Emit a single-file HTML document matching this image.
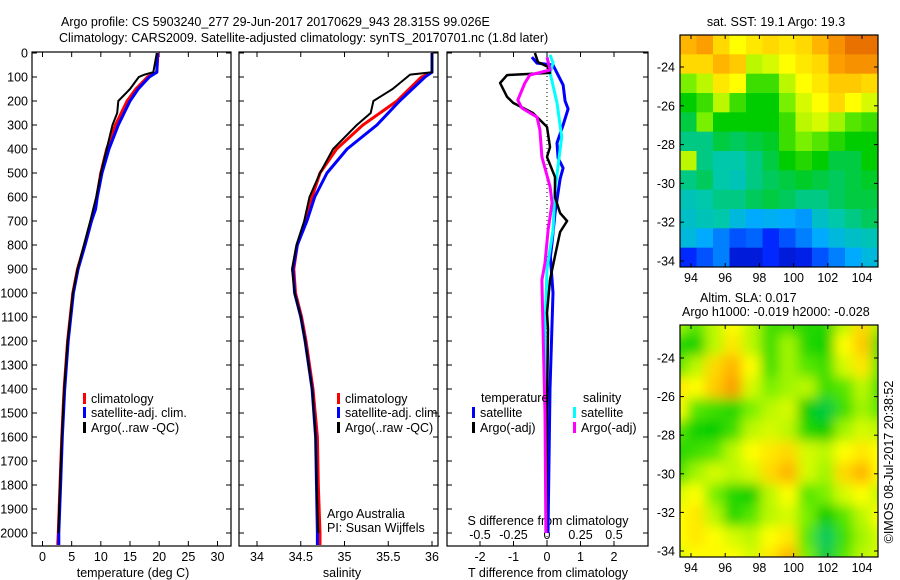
<!DOCTYPE html>
<html><head><meta charset="utf-8"><style>
html,body{margin:0;padding:0;background:#fff;width:900px;height:580px;overflow:hidden}
svg{display:block;font-family:"Liberation Sans",sans-serif}
text{font-size:12.5px;fill:#000}
</style></head><body>
<svg id="c" width="900" height="580" viewBox="0 0 900 580" xmlns="http://www.w3.org/2000/svg">
<defs>
<filter id="blur" x="0" y="0" width="1" height="1"><feGaussianBlur stdDeviation="6"/></filter>
<clipPath id="clipSla"><rect x="680" y="325" width="198" height="232"/></clipPath>
<clipPath id="clipSst"><rect x="680" y="35" width="198" height="232"/></clipPath>
</defs>
<text x="61" y="26">Argo profile: CS 5903240_277 29-Jun-2017 20170629_943 28.315S 99.026E</text>
<text x="59" y="42">Climatology: CARS2009. Satellite-adjusted climatology: synTS_20170701.nc (1.8d later)</text>
</svg>
<script>
// ---- data ----
const tDepth=[0,80,100,150,200,300,400,500,600,650,700,800,900,1000,1200,1400,1600,1800,2000,2050];
const tClim=[19.8,19.6,18,16,14.5,12.5,11,10,9.3,9,8.3,7.2,6,5.2,4.3,3.7,3.3,3,2.7,2.6];
const tSat=[19.7,19.6,18.3,16.4,15,13,11.4,10.2,9.4,9.1,8.4,7.3,6.1,5.3,4.4,3.8,3.4,3.1,2.8,2.8];
const tArgoDepth=[0,80,90,100,150,200,250,300,400,500,600,700,800,900,1000,1200,1400,1600,1800,2000];
const tArgo=[19.6,19,17.5,16.5,15,13,12.8,12,11,10,9.2,8.2,7.1,6,5.2,4.3,3.7,3.3,3,2.7];
const sDepth=[0,80,100,200,300,400,500,600,700,800,900,1000,1100,1200,1400,1600,1800,2000,2050];
const sClim=[36.0,36.0,35.88,35.6,35.21,34.91,34.72,34.63,34.56,34.46,34.42,34.44,34.51,34.56,34.64,34.69,34.7,34.72,34.72];
const sSat=[36.0,36.0,35.92,35.63,35.37,35.03,34.8,34.66,34.57,34.46,34.41,34.43,34.5,34.55,34.63,34.67,34.68,34.69,34.69];
const sArgoDepth=[0,80,90,150,200,250,300,400,500,600,700,800,900,1000,1100,1200,1400,1600,1800,2000];
const sArgo=[36.0,36.0,35.75,35.55,35.33,35.3,35.14,34.87,34.72,34.6,34.54,34.45,34.4,34.43,34.5,34.55,34.63,34.67,34.68,34.7];
const dTSatDepth=[17,42,50,83,133,200,233,300,375,438,479,525,667,792,850,1000,1400,2000];
const dTSat=[-0.45,-0.3,0.18,0.3,0.48,0.54,0.63,0.48,0.3,0.33,0.48,0.39,0.24,0.15,0.1,0.18,0.09,0.03];
const dSSatDepth=[8,42,83,208,350,571,738,900,1150,1500,2000];
const dSSat=[0.023,0.045,0.023,0.075,0.11,0.06,0.045,0.0,-0.015,-0.008,-0.008];
const dSArgoDepth=[17,71,92,125,196,229,267,321,433,558,625,738,875,946,1150,1500,2000];
const dSArgo=[0,0.023,-0.128,-0.165,-0.218,-0.188,-0.075,-0.053,-0.038,0.023,0.038,0.008,-0.015,-0.038,-0.03,-0.015,-0.008];
const dTArgoDepth=[0,38,58,83,92,125,183,208,250,308,392,433,517,600,667,700,746,846,946,1083,1150,1500,2000];
const dTArgo=[-0.36,-0.27,0.03,0.09,-1.19,-1.4,-1.19,-1.01,-0.42,0,0.09,0,0.24,0.24,0.39,0.6,0.39,0.24,0.09,0,0.03,0,-0.02];
const depthTicks=[0,100,200,300,400,500,600,700,800,900,1000,1100,1200,1300,1400,1500,1600,1700,1800,1900,2000];
const tempTicks=[0,5,10,15,20,25,30];
const salTicks=[34,34.5,35,35.5,36];
const dTTicks=[-2,-1,0,1,2];
const dSTicks=[-0.5,-0.25,0,0.25,0.5];
const dSTickLabels=["-0.5","-0.25","0","0.25","0.5"];
const lonTicks=[94,96,98,100,102,104];
const latTicks=[-24,-26,-28,-30,-32,-34];
const sstGrid=[
[.85,.88,.8,.75,.78,.8,.78,.8,.85,.9,.95,.95],
[.8,.8,.85,.82,.7,.72,.75,.78,.8,.88,.9,.9],
[.65,.7,.78,.75,.6,.6,.7,.75,.78,.82,.82,.8],
[.55,.6,.7,.6,.55,.55,.65,.72,.75,.8,.75,.72],
[.5,.65,.55,.55,.55,.55,.6,.7,.72,.68,.62,.6],
[.45,.45,.5,.48,.5,.52,.6,.65,.62,.58,.55,.55],
[.7,.45,.42,.42,.45,.5,.55,.58,.55,.5,.5,.55],
[.45,.48,.42,.4,.45,.48,.5,.52,.5,.48,.5,.52],
[.4,.42,.45,.45,.48,.5,.48,.45,.45,.48,.5,.5],
[.38,.4,.42,.35,.3,.32,.3,.28,.38,.42,.45,.48],
[.35,.3,.25,.2,.22,.15,.2,.25,.3,.35,.38,.4],
[.15,.2,.25,.1,.1,.15,.1,.12,.2,.25,.3,.35]];
const slaGrid=[
[.68,.62,.7,.75,.7,.6,.6,.58,.58,.7,.8,.68],
[.58,.56,.7,.78,.7,.6,.68,.58,.56,.75,.82,.6],
[.62,.7,.8,.85,.75,.6,.68,.62,.6,.72,.78,.62],
[.78,.75,.82,.88,.72,.65,.68,.7,.6,.62,.7,.6],
[.75,.62,.6,.58,.65,.7,.72,.55,.5,.6,.68,.62],
[.62,.56,.55,.6,.7,.72,.7,.58,.55,.68,.72,.7],
[.58,.6,.62,.7,.75,.78,.8,.72,.7,.75,.78,.75],
[.6,.68,.72,.7,.72,.8,.85,.72,.68,.8,.85,.75],
[.72,.75,.65,.58,.56,.7,.75,.62,.65,.72,.75,.7],
[.75,.78,.7,.58,.62,.7,.72,.65,.55,.62,.7,.75],
[.75,.78,.75,.72,.7,.75,.78,.62,.48,.6,.68,.72],
[.72,.75,.76,.75,.72,.78,.85,.65,.5,.62,.7,.72]];

// ---- helpers ----
const svg=document.getElementById('c');
const NS='http://www.w3.org/2000/svg';
function mk(tag,attrs,parent){const e=document.createElementNS(NS,tag);for(const k in attrs)e.setAttribute(k,attrs[k]);(parent||svg).appendChild(e);return e;}
function txt(x,y,s,anchor){const e=mk('text',{x:x,y:y,'text-anchor':anchor||'start'});e.textContent=s;return e;}
const top0=52,bot0=546;
const yD=d=>53+d*0.24;
function lin(d0,d1,p0,p1){return v=>p0+(v-d0)*(p1-p0)/(d1-d0);}
const xT=lin(0,30,42.5,217.5);
const xS=lin(34,36,257,432);
const xdT=lin(0,1,547,580.5);
const xdS=lin(0,0.25,547,580.5);

function panel(x0,x1,name){
  const r=mk('rect',{x:x0,y:top0,width:x1-x0,height:bot0-top0,fill:'none',stroke:'#000','stroke-width':1.2});
  
  
  depthTicks.forEach(d=>{mk('line',{x1:x0,x2:x0+5,y1:yD(d),y2:yD(d),stroke:'#000'});mk('line',{x1:x1-5,x2:x1,y1:yD(d),y2:yD(d),stroke:'#000'});});
}
function xticks(vals,fx,labels,name){
  vals.forEach((v,i)=>{const x=fx(v);mk('line',{x1:x,x2:x,y1:bot0,y2:bot0-5,stroke:'#000'});mk('line',{x1:x,x2:x,y1:top0,y2:top0+5,stroke:'#000'});
    const t=txt(x,561,labels[i],'middle');});
}
function line(xs,ds,fx,color,w,name){
  const pts=xs.map((v,i)=>fx(v).toFixed(1)+','+yD(ds[i]).toFixed(1)).join(' ');
  const p=mk('polyline',{points:pts,fill:'none',stroke:color,'stroke-width':w,'stroke-linejoin':'round'});
  
  
}
function legend(x,y,color,label,name){
  mk('rect',{x:x,y:y-6,width:3,height:11,fill:color});
  const t=txt(x+8,y+4,label);
  
  
}

// panel 1: temperature
panel(32,231,'temperature-panel');
depthTicks.forEach(d=>{const t=txt(28,yD(d)+4.5,String(d),'end');});
xticks(tempTicks,xT,tempTicks.map(String),'temperature-tick-label');
{const t=txt(133,577,'temperature (deg C)','middle');}
line(tClim,tDepth,xT,'#ff0000',3,'temperature-climatology-line');
line(tSat,tDepth,xT,'#0000ff',3,'temperature-satellite-line');
line(tArgo,tArgoDepth,xT,'#000000',2,'temperature-argo-line');
legend(83,399,'#ff0000','climatology','legend-climatology');
legend(83,413,'#0000ff','satellite-adj. clim.','legend-satellite');
legend(83,428,'#000000','Argo(..raw -QC)','legend-argo');

// panel 2: salinity
panel(239,438,'salinity-panel');
xticks(salTicks,xS,salTicks.map(String),'salinity-tick-label');
{const t=txt(342,577,'salinity','middle');}
line(sClim,sDepth,xS,'#ff0000',3,'salinity-climatology-line');
line(sSat,sDepth,xS,'#0000ff',3,'salinity-satellite-line');
line(sArgo,sArgoDepth,xS,'#000000',2,'salinity-argo-line');
legend(337,399,'#ff0000','climatology','legend-climatology-2');
legend(337,413,'#0000ff','satellite-adj. clim.','legend-satellite-2');
legend(337,428,'#000000','Argo(..raw -QC)','legend-argo-2');
{const t=txt(327,518,'Argo Australia');
 const t2=txt(327,532,'PI: Susan Wijffels');}

// panel 3: differences
panel(447,648,'difference-panel');
mk('line',{x1:547,x2:547,y1:top0,y2:bot0,stroke:'#000','stroke-dasharray':'1,3'});
xticks(dTTicks,xdT,dTTicks.map(String),'t-diff-tick-label');
dSTicks.forEach((v,i)=>{const t=txt(xdS(v),539,dSTickLabels[i],'middle');});
{const t=txt(548,525,'S difference from climatology','middle');
 const t2=txt(548,577,'T difference from climatology','middle');}
line(dTSat,dTSatDepth,xdT,'#0000ff',3,'t-diff-satellite-line');
line(dSSat,dSSatDepth,xdS,'#00ffff',3,'s-diff-satellite-line');
line(dTArgo,dTArgoDepth,xdT,'#000000',2.5,'t-diff-argo-line');
line(dSArgo,dSArgoDepth,xdS,'#ff00ff',3,'s-diff-argo-line');
{const t=txt(481,402,'temperature');
 const t2=txt(583,402,'salinity');}
legend(472,413,'#0000ff','satellite','legend-t-satellite');
legend(472,428,'#000000','Argo(-adj)','legend-t-argo');
legend(573,413,'#00ffff','satellite','legend-s-satellite');
legend(573,428,'#ff00ff','Argo(-adj)','legend-s-argo');

// ---- maps ----
const stops=[[0,[0,0,140]],[0.15,[0,40,255]],[0.3,[0,170,255]],[0.42,[0,200,170]],[0.55,[0,205,0]],[0.65,[120,240,0]],[0.75,[255,255,0]],[0.87,[255,165,0]],[1,[220,80,0]]];
function cmap(v){for(let i=1;i<stops.length;i++){if(v<=stops[i][0]){const a=stops[i-1],b=stops[i],f=(v-a[0])/(b[0]-a[0]);return 'rgb('+a[1].map((c,j)=>Math.round(c+(b[1][j]-c)*f)).join(',')+')';}}return 'rgb(220,80,0)';}
const xLon=lin(94,104,691,862);
function drawMap(grid,y0,yLat,clip,blur,name){
  const g=mk('g',{'clip-path':'url(#'+clip+')'});
  
  
  const inner=blur?mk('g',{filter:'url(#blur)'},g):g;
  const rows=grid.length,cols=grid[0].length,W=198,H=232;
  const pad=blur?12:0;
  grid.forEach((row,r)=>row.forEach((v,c)=>{
    const cw=(W+2*pad)/cols,ch=(H+2*pad)/rows;
    mk('rect',{x:680-pad+c*cw,y:y0-pad+r*ch,width:cw+0.6,height:ch+0.6,fill:cmap(v)},inner);
  }));
  mk('rect',{x:680,y:y0,width:198,height:232,fill:'none',stroke:'#000','stroke-width':1.2});
  lonTicks.forEach(l=>{const x=xLon(l);mk('line',{x1:x,x2:x,y1:y0,y2:y0+4,stroke:'#000'});mk('line',{x1:x,x2:x,y1:y0+232,y2:y0+228,stroke:'#000'});
    const t=txt(x,y0+232+15,String(l),'middle');});
  latTicks.forEach(l=>{const y=yLat(l);mk('line',{x1:680,x2:684,y1:y,y2:y,stroke:'#000'});mk('line',{x1:878,x2:874,y1:y,y2:y,stroke:'#000'});
    const t=txt(675,y+4.5,String(l),'end');});
}
drawMap(sstGrid,35,lin(-24,-34,67,261),'clipSst',false,'sst-map');
drawMap(slaGrid,325,lin(-24,-34,358,551),'clipSla',true,'sla-map');
{const t=txt(776,26,'sat. SST: 19.1 Argo: 19.3','middle');
 const t2=txt(700,302,'Altim. SLA: 0.017');
 const t3=txt(682,316,'Argo h1000: -0.019 h2000: -0.028');
 const t4=txt(0,0,'©IMOS 08-Jul-2017 20:38:52','middle');t4.setAttribute('transform','translate(893,462) rotate(-90)');}
</script>
</body></html>
